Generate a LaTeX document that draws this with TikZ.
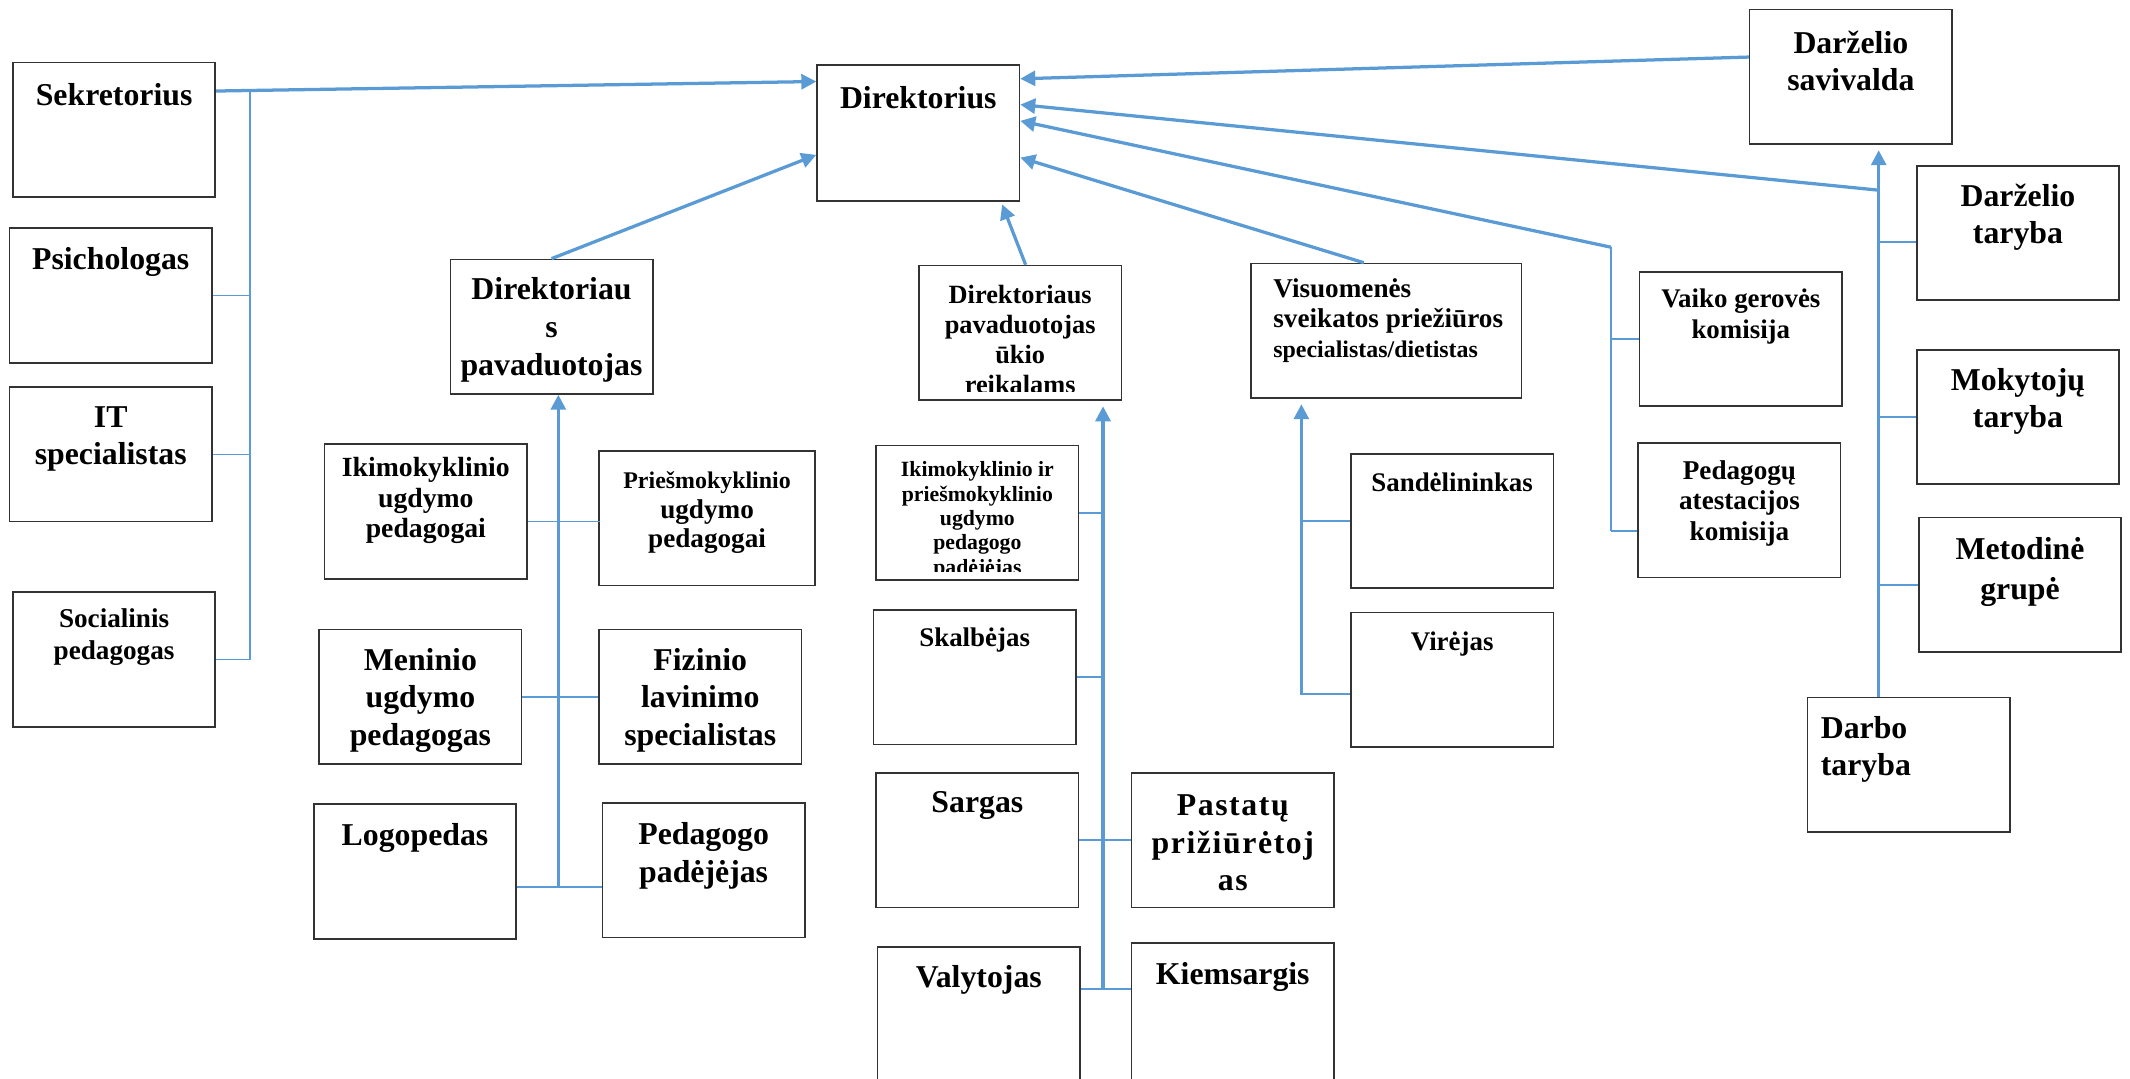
\documentclass[tikz,border=0pt]{standalone}
\usepackage{fontspec}
\setmainfont{Liberation Serif}
\usetikzlibrary{arrows.meta,positioning}
\definecolor{lineblue}{RGB}{91,155,213}
\tikzset{
  box/.style={draw=black!80, line width=0.6pt, inner sep=0pt, minimum width=74.5pt, minimum height=49.5pt},
  bigtxt/.style={inner sep=0pt, align=center, font=\bfseries\fontsize{11.7}{13.8}\selectfont},
  midtxt/.style={inner sep=0pt, align=center, font=\bfseries\fontsize{9.9}{11.3}\selectfont},
  smalltxt/.style={inner sep=0pt, align=center, font=\bfseries\fontsize{8}{9}\selectfont},
  arrowline/.style={draw=lineblue, line width=1.2pt, -{Triangle[length=5.5pt,width=5.5pt]}},
  branchline/.style={draw=lineblue, line width=0.6pt},
}
\begin{document}
\begin{tikzpicture}[x=0.5pt,y=0.5pt,yscale=-1]
\useasboundingbox (0,0) rectangle (1568,794);

%Shape: Rectangle -- left column
\node[box] (sekr) at (84,95.5) {};
\node[box] (psich) at (81.5,217.5) {};
\node[box] (it) at (81.5,334.5) {};
\node[box] (soc) at (84,485.5) {};
% Text Node
\node[bigtxt] (sekr-t) at (84,70) {Sekretorius};
\node[bigtxt] (psich-t) at (81.5,193) {Psichologas};
\node[bigtxt] (it-t) at (81.5,323) {IT\\specialistas};
\node[midtxt, font=\bfseries\fontsize{10}{12}\selectfont] (soc-t) at (84,469) {Socialinis\\pedagogas};

%Shape: Rectangle -- top
\node[box, minimum height=50pt] (dir) at (676,98) {};
\node[box] (sav) at (1362.5,56.5) {};
\node[bigtxt] (dir-t) at (676,72) {Direktorius};
\node[bigtxt] (sav-t) at (1362.5,45) {Darželio\\savivalda};

%Shape: Rectangle -- deputies
\node[box] (pav) at (406,240.5) {};
\node[box] (ukio) at (751,245) {};
\node[box, minimum width=99.5pt] (visu) at (1020.5,243.5) {};
\node[bigtxt, font=\bfseries\fontsize{11.7}{14}\selectfont] (pav-t) at (406,243) {Direktoriau\\s\\pavaduotojas};
\begin{scope}
\clip (677,196) rectangle (825,288);
\node[midtxt, font=\bfseries\fontsize{9.7}{11}\selectfont] (ukio-t) at (751,250) {Direktoriaus\\pavaduotojas\\ūkio\\reikalams};
\end{scope}
\node[midtxt, align=left, anchor=west, font=\bfseries\fontsize{10}{11.2}\selectfont] (visu-t) at (937,236)
  {Visuomenės\\sveikatos priežiūros\\{\fontsize{8.8}{11}\selectfont specialistas/dietistas}};

%Shape: Rectangle -- commissions and councils
\node[box] (vaiko) at (1281.5,249.5) {};
\node[box] (atest) at (1280.5,375.5) {};
\node[box] (taryba) at (1485.5,171.5) {};
\node[box] (mokyt) at (1485.5,307) {};
\node[box] (metod) at (1487,430.5) {};
\node[box] (darbo) at (1405,563) {};
\node[midtxt] (vaiko-t) at (1281.5,233) {Vaiko gerovės\\komisija};
\node[midtxt, font=\bfseries\fontsize{10}{11.2}\selectfont] (atest-t) at (1280.5,370.5) {Pedagogų\\atestacijos\\komisija};
\node[bigtxt] (taryba-t) at (1485.5,160) {Darželio\\taryba};
\node[bigtxt] (mokyt-t) at (1485.5,295.5) {Mokytojų\\taryba};
\node[bigtxt, font=\bfseries\fontsize{11.7}{14.5}\selectfont] (metod-t) at (1487,421) {Metodinė\\grupė};
\node[bigtxt, align=left, anchor=west] (darbo-t) at (1340,551.5) {Darbo\\taryba};

%Shape: Rectangle -- pedagogues
\node[box] (ikim) at (313.5,376.5) {};
\node[box, minimum width=79.5pt] (priesm) at (520.5,381.5) {};
\node[box] (menin) at (309.5,513) {};
\node[box] (fizin) at (515.5,513) {};
\node[box] (logop) at (305.5,641.5) {};
\node[box] (padej) at (518,640.5) {};
\node[midtxt, font=\bfseries\fontsize{10.2}{11.3}\selectfont] (ikim-t) at (313.5,368.5) {Ikimokyklinio\\ugdymo\\pedagogai};
\node[midtxt, font=\bfseries\fontsize{10}{10.8}\selectfont] (priesm-t) at (520.5,377.5)
  {{\fontsize{8.8}{10.8}\selectfont Priešmokyklinio}\\ugdymo\\pedagogai};
\node[bigtxt] (menin-t) at (309.5,515.5) {Meninio\\ugdymo\\pedagogas};
\node[bigtxt] (fizin-t) at (515.5,515.5) {Fizinio\\lavinimo\\specialistas};
\node[bigtxt] (logop-t) at (305.5,617) {Logopedas};
\node[bigtxt] (padej-t) at (518,630) {Pedagogo\\padėjėjas};

%Shape: Rectangle -- household staff
\node[box] (ikpr) at (719.5,377.5) {};
\node[box] (skalb) at (717.5,498.5) {};
\node[box] (sarg) at (719.5,618.5) {};
\node[box] (pastat) at (907.5,618.5) {};
\node[box, minimum height=52pt] (valyt) at (720.5,749) {};
\node[box, minimum height=52pt] (kiem) at (907.5,746) {};
\begin{scope}
\clip (645,328) rectangle (794,421);
\node[smalltxt] (ikpr-t) at (719.5,383) {Ikimokyklinio ir\\priešmokyklinio\\ugdymo\\pedagogo\\padėjėjas};
\end{scope}
\node[midtxt] (skalb-t) at (717.5,471) {Skalbėjas};
\node[bigtxt] (sarg-t) at (719.5,593) {Sargas};
\node[bigtxt, font=\bfseries\fontsize{11.7}{13.8}\selectfont\addfontfeature{LetterSpace=5}] (pastat-t) at (907.5,620.5) {Pastatų\\prižiūrėtoj\\as};
\node[bigtxt] (valyt-t) at (720.5,721) {Valytojas};
\node[bigtxt] (kiem-t) at (907.5,719) {Kiemsargis};

%Shape: Rectangle -- kitchen
\node[box] (sand) at (1069,383.5) {};
\node[box] (virej) at (1069,500.5) {};
\node[midtxt] (sand-t) at (1069,355) {Sandėlininkas};
\node[midtxt] (virej-t) at (1069,474) {Virėjas};

%Straight Lines -- into Direktorius
\draw[arrowline] ([yshift=-14.25pt]sekr.east) -- ([yshift=-19pt]dir.west);
\draw[arrowline] (pav.north) -- ([yshift=8pt]dir.west);
\draw[arrowline, shorten >=1pt] ([xshift=2pt]ukio.north) -- ([xshift=30.5pt]dir.south);
\draw[arrowline] ([xshift=-8.25pt]visu.north) -- ([yshift=9pt]dir.east);
\draw[arrowline] ([yshift=-7.25pt]sav.west) -- ([yshift=-20pt]dir.east);
\coordinate (vk) at (1186,182);
\draw[arrowline] (vk) -- ([yshift=-4.5pt]dir.east);
\coordinate (tk) at (1383,140);
\draw[arrowline] (tk) -- ([yshift=-10.5pt]dir.east);

%Straight Lines -- Sekretorius group
\coordinate (sk) at (184,66.6);
\draw[branchline] (sk) -- (sk |- soc.east);
\draw[branchline] (psich.east) -- (psich.east -| sk);
\draw[branchline] (it.east) -- (it.east -| sk);
\draw[branchline] (soc.east) -- (soc.east -| sk);

%Straight Lines -- councils
\draw[arrowline, shorten >=2pt] (tk |- darbo.north) -- (tk |- sav.south);
\draw[branchline] ([yshift=3.25pt]taryba.west) -- ++(-28,0);
\draw[branchline] (mokyt.west) -- (mokyt.west -| tk);
\draw[branchline] (metod.west) -- (metod.west -| tk);

%Straight Lines -- commissions
\coordinate (vb) at (1186,391);
\draw[branchline] (vk) -- (vb);
\draw[branchline] (vaiko.west) -- (vaiko.west -| vk);
\draw[branchline] ([yshift=7.75pt]atest.west) -- (vb);

%Straight Lines -- pedagogues
\coordinate (pk) at (411,653);
\draw[arrowline] (pk) -- (pk |- pav.south);
\draw[branchline] ([yshift=3.75pt]ikim.east) -- ++(53,0);
\draw[branchline] (menin.east) -- (fizin.west);
\draw[branchline] ([yshift=5.75pt]logop.east) -- ([yshift=6.25pt]padej.west);

%Straight Lines -- household staff
\coordinate (uk) at (812,728);
\draw[arrowline, shorten >=2pt] (uk) -- (uk |- ukio.south);
\draw[branchline] (ikpr.east) -- (ikpr.east -| uk);
\draw[branchline] (skalb.east) -- (skalb.east -| uk);
\draw[branchline] (sarg.east) -- (pastat.west);
\draw[branchline] ([yshift=-10.5pt]valyt.east) -- ([yshift=-9pt]kiem.west);

%Straight Lines -- kitchen
\coordinate (vt) at (958,511);
\draw[arrowline, shorten >=2pt] (vt) -- (vt |- visu.south);
\draw[branchline] (sand.west) -- (sand.west -| vt);
\draw[branchline] ([yshift=5.25pt]virej.west) -- ++(-37,0);

\end{tikzpicture}
\end{document}
